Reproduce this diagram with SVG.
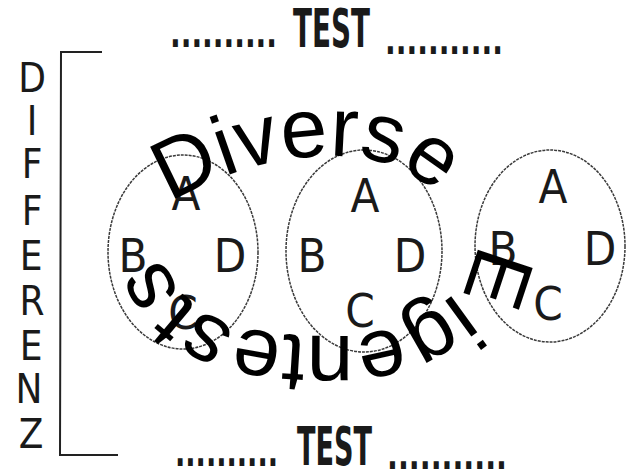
<svg xmlns="http://www.w3.org/2000/svg" width="628" height="473" viewBox="0 0 628 473">
  <defs>
    <style>
      .scan { font-family: "Liberation Sans Narrow", "DejaVu Sans Condensed", "Liberation Sans", sans-serif; fill: #1a1a1a; }
      .ring { fill: none; stroke: #3a3a3a; stroke-width: 1.5; stroke-dasharray: 3 1; }
      .lbl { font-size: 47px; text-anchor: middle; }
      .vert { font-size: 40px; text-anchor: middle; }
      .dots { font-size: 40px; font-weight: bold; }
      .test { font-size: 54px; font-weight: bold; }
      .line { fill: none; stroke: #222; stroke-width: 2; }
      .curve { font-family: "Liberation Sans", Arial, sans-serif; font-size: 84px; fill: #000; }
    </style>
    <path id="arc" d="M 170 203 C 217.7 174.3 274.3 156 330 156 C 360 156 392.4 160.8 417 178 C 450.4 201.4 485.3 235.2 470 273 C 461.9 292.9 439.6 304.3 421 315 C 396.3 329.3 366.5 336 338 336 C 312.3 336 286.3 335.5 261 331 C 247.5 328.6 232.9 327.9 221 321 C 202.4 310.3 182.8 297.6 172 279 C 165.3 267.5 160 253 160 240"/>
  </defs>
  <rect width="628" height="473" fill="#fff"/>

  <g id="title-top">
    <text class="scan dots" x="170" y="47" textLength="107" lengthAdjust="spacingAndGlyphs">..........</text>
    <text class="scan test" x="293" y="47" textLength="77" lengthAdjust="spacingAndGlyphs">TEST</text>
    <text class="scan dots" x="385" y="54" textLength="118" lengthAdjust="spacingAndGlyphs">...........</text>
  </g>

  <g id="title-bottom">
    <text class="scan dots" x="175" y="466" textLength="103" lengthAdjust="spacingAndGlyphs">..........</text>
    <text class="scan test" x="297" y="465" textLength="75" lengthAdjust="spacingAndGlyphs">TEST</text>
    <text class="scan dots" x="387" y="469" textLength="120" lengthAdjust="spacingAndGlyphs">...........</text>
  </g>

  <g id="differenz">
    <text class="scan vert" x="32" y="92">D</text>
    <text class="scan vert" x="32" y="135">I</text>
    <text class="scan vert" x="32" y="178">F</text>
    <text class="scan vert" x="32" y="225">F</text>
    <text class="scan vert" x="31" y="270">E</text>
    <text class="scan vert" x="32" y="315">R</text>
    <text class="scan vert" x="31" y="360">E</text>
    <text class="scan vert" x="29" y="403">N</text>
    <text class="scan vert" x="31" y="448">Z</text>
  </g>

  <g id="connectors">
    <path class="line" d="M 102 52 L 61 52 L 60 455 L 118 455"/>
  </g>

  <g id="circle1">
    <ellipse class="ring" cx="183" cy="252" rx="75" ry="97"/>
    <text class="scan lbl" x="186" y="210">A</text>
    <text class="scan lbl" x="133" y="272">B</text>
    <text class="scan lbl" x="230" y="272">D</text>
    <text class="scan lbl" x="183" y="329">C</text>
  </g>

  <g id="circle2">
    <ellipse class="ring" cx="364" cy="251" rx="78" ry="101"/>
    <text class="scan lbl" x="365" y="212">A</text>
    <text class="scan lbl" x="312" y="272">B</text>
    <text class="scan lbl" x="410" y="272">D</text>
    <text class="scan lbl" x="360" y="327">C</text>
  </g>

  <g id="circle3">
    <ellipse class="ring" cx="550" cy="246" rx="75" ry="96"/>
    <text class="scan lbl" x="553" y="203">A</text>
    <text class="scan lbl" x="503" y="265">B</text>
    <text class="scan lbl" x="600" y="265">D</text>
    <text class="scan lbl" x="548" y="320">C</text>
  </g>

  <g id="overlay">
    <text class="curve"><textPath href="#arc">Diverse <tspan dx="38">Eigentests</tspan></textPath></text>
  </g>
</svg>
